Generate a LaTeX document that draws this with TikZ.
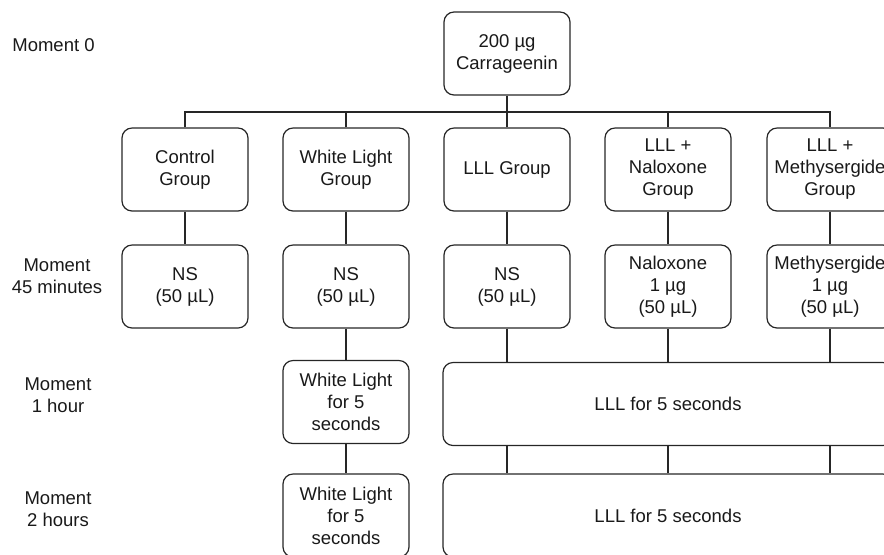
\documentclass[tikz,border=0pt]{standalone}
\usepackage{fontspec}
\setmainfont{Liberation Sans}

\begin{document}
\begin{tikzpicture}[x=0.5pt,y=-0.5pt,
    font=\fontsize{9.25}{11}\selectfont,
    line/.style={draw=black!85,line width=0.6pt},
    box/.style={line,rounded corners=5pt,align=center,inner sep=1pt,
        minimum width=63pt,minimum height=41.5pt,text=black!90},
    widebox/.style={box,minimum width=225pt},
    moment/.style={align=center,inner sep=0pt,text=black!90}]
    \useasboundingbox (0,0) rectangle (884,554);
    \clip (0,0) rectangle (884,554);

    % Time labels on the left:
    \node [moment] (m0)  at (53.5,45) {Moment 0};
    \node [moment] (m45) at (57,276)  {Moment\\45 minutes};
    \node [moment] (m1)  at (58,395)  {Moment\\1 hour};
    \node [moment] (m2)  at (58,509)  {Moment\\2 hours};

    % Injection:
    \node [box] (carr) at (507,53.5) {200 µg\\Carrageenin};

    % Groups:
    \node [box] (g1) at (185,169.5) {Control\\Group};
    \node [box] (g2) at (346,169.5) {White Light\\Group};
    \node [box] (g3) at (507,169.5) {LLL Group};
    \node [box] (g4) at (668,169.5) {LLL +\\Naloxone\\Group};
    \node [box] (g5) at (830,169.5) {LLL +\\Methysergide\\Group};

    % Treatment at 45 minutes:
    \node [box] (n1) at (185,286.5) {NS\\(50 µL)};
    \node [box] (n2) at (346,286.5) {NS\\(50 µL)};
    \node [box] (n3) at (507,286.5) {NS\\(50 µL)};
    \node [box] (n4) at (668,286.5) {Naloxone\\1 µg\\(50 µL)};
    \node [box] (n5) at (830,286.5) {Methysergide\\1 µg\\(50 µL)};

    % Light at 1 hour and 2 hours:
    \node [box]     (w1) at (346,402)   {White Light\\for 5\\seconds};
    \node [widebox] (l1) at (668,404)   {LLL for 5 seconds};
    \node [box]     (w2) at (346,515.5) {White Light\\for 5\\seconds};
    \node [widebox] (l2) at (668,515.5) {LLL for 5 seconds};

    % Connectors:
    \coordinate (bus) at (0,112);
    \draw [line] (carr.south) -- (carr.south |- bus);
    \draw [line] (g1.north) |- (g5.north |- bus) -- (g5.north);
    \foreach \g in {g2,g3,g4}
        \draw [line] (\g.north) -- (\g.north |- bus);
    \foreach \n in {1,...,5}
        \draw [line] (g\n) -- (n\n);
    \draw [line] (n2) -- (w1);
    \draw [line] (w1) -- (w2);
    \foreach \n in {3,4,5}{%
        \draw [line] (n\n.south) -- (n\n.south |- l1.north);
        \draw [line] (n\n.south |- l1.south) -- (n\n.south |- l2.north);
    }
\end{tikzpicture}
\end{document}
